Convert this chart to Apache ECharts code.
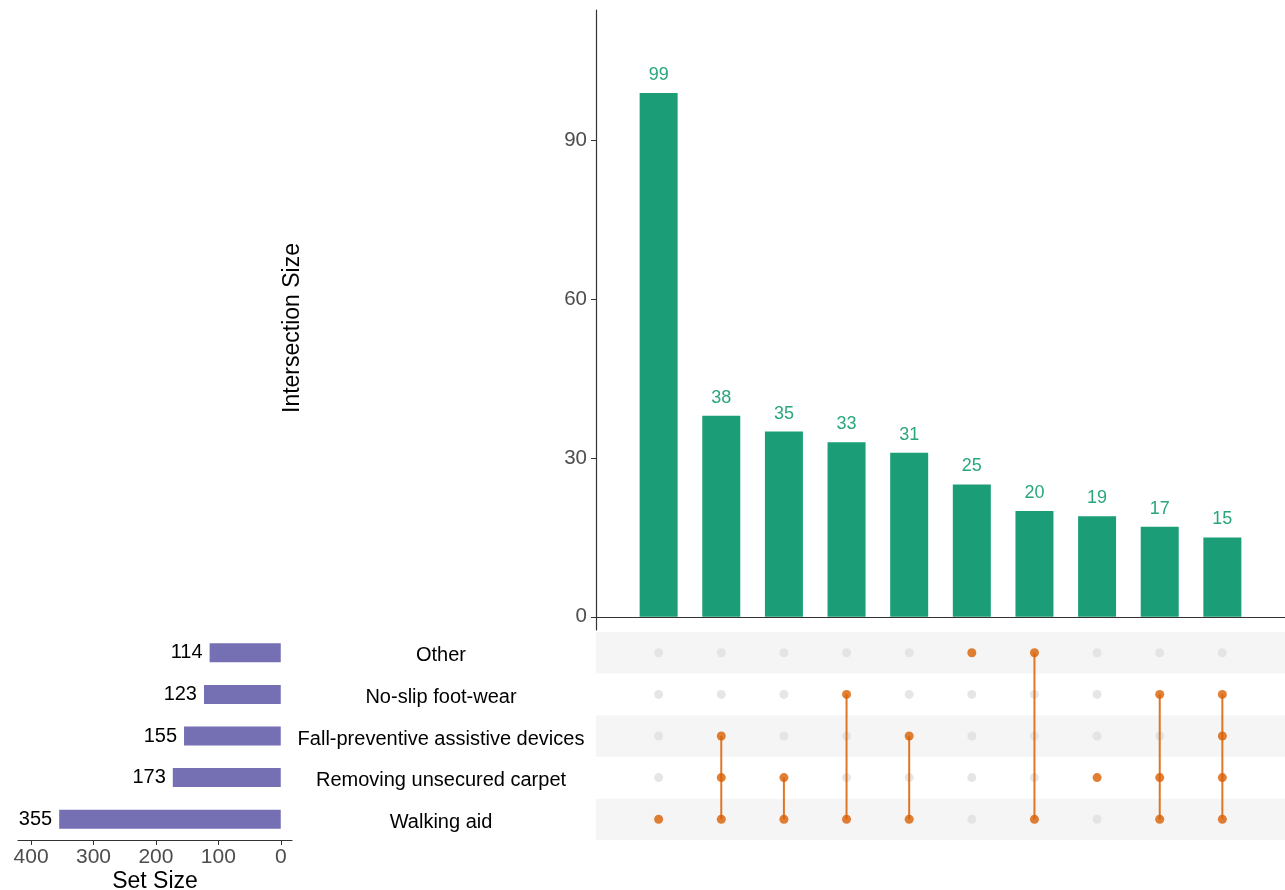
<!DOCTYPE html>
<html>
<head>
<meta charset="utf-8">
<script src="https://cdn.jsdelivr.net/npm/echarts@6/dist/echarts.min.js"></script>
<style>
  html, body { margin: 0; padding: 0; background: #fff; }
  #chart { width: 1285px; height: 890px; }
</style>
</head>
<body>
<div id="chart"></div>
<script>
// sets listed bottom to top, as in the matrix
const setNames = ['Walking aid', 'Removing unsecured carpet', 'Fall-preventive assistive devices', 'No-slip foot-wear', 'Other']
const setSizes = [355, 173, 155, 123, 114]
const intersectionSizes = [99, 38, 35, 33, 31, 25, 20, 19, 17, 15]
// which sets (index into setNames) belong to each intersection column
const memberships = [
  [0],
  [0, 1, 2],
  [0, 1],
  [0, 3],
  [0, 2],
  [4],
  [0, 4],
  [1],
  [0, 1, 3],
  [0, 1, 2, 3]
]
const intersectionTicks = [0, 30, 60, 90]
const setSizeTicks = [0, 100, 200, 300, 400]

const FONT = 'Arial, "Liberation Sans", sans-serif'
const GREEN = '#1b9e77'
const ORANGE = '#d95f02'
const PURPLE = '#7570b3'

const chart = echarts.init(document.getElementById('chart'), null, { renderer: 'canvas' })

// matrix dots
const greyDots = []
const activeDots = []
const segments = []
memberships.forEach((m, col) => {
  setNames.forEach((_, row) => {
    if (m.includes(row)) activeDots.push([col, row])
    else greyDots.push([col, row])
  })
  if (m.length > 1) segments.push([col, Math.min(...m), Math.max(...m)])
})

const option = {
  animation: false,
  backgroundColor: '#fff',
  textStyle: { fontFamily: FONT },
  graphic: [{
    type: 'text',
    x: 293,
    y: 328,
    rotation: Math.PI / 2,
    style: {
      text: 'Intersection Size',
      font: '23px ' + FONT,
      fill: '#000',
      align: 'center',
      verticalAlign: 'middle'
    }
  }],
  grid: [
    // intersection bars
    { left: 596, top: 10, width: 689, height: 620, outerBoundsMode: 'none', containLabel: false },
    // matrix
    { left: 596, top: 632, width: 689, height: 208, outerBoundsMode: 'none', containLabel: false },
    // set sizes
    { left: 18, top: 632, width: 274, height: 208, outerBoundsMode: 'none', containLabel: false }
  ],
  xAxis: [
    {
      gridIndex: 0, type: 'value', min: -1, max: 10,
      axisLine: { show: true, onZero: true, lineStyle: { color: '#333', width: 1.2 } },
      axisTick: { show: false }, axisLabel: { show: false }, splitLine: { show: false }
    },
    {
      gridIndex: 1, type: 'value', min: -1, max: 10, show: false
    },
    {
      gridIndex: 2, type: 'value', min: -18, max: 421, inverse: true,
      axisLine: { show: true, onZero: false, lineStyle: { color: '#333', width: 1.2 } },
      axisTick: { show: true, length: 5, lineStyle: { color: '#333' }, customValues: setSizeTicks },
      axisLabel: { color: '#4d4d4d', fontSize: 21, margin: 7, customValues: setSizeTicks },
      splitLine: { show: false },
      name: 'Set Size', nameLocation: 'middle', nameGap: 30,
      nameTextStyle: { color: '#000', fontSize: 23 }
    }
  ],
  yAxis: [
    {
      gridIndex: 0, type: 'value', min: -2.5, max: 114.7,
      axisLine: { show: true, onZero: false, lineStyle: { color: '#333', width: 1.2 } },
      axisTick: { show: true, length: 5, lineStyle: { color: '#333' }, customValues: intersectionTicks },
      axisLabel: { color: '#4d4d4d', fontSize: 20.5, margin: 9, customValues: intersectionTicks },
      splitLine: { show: false }
    },
    {
      gridIndex: 1, type: 'category', data: setNames,
      axisLine: { show: false, onZero: false }, axisTick: { show: false },
      axisLabel: {
        align: 'center', margin: 155,
        formatter: '{n|{value}}',
        rich: { n: { color: '#000', fontSize: 20, fontFamily: FONT, padding: [6, 0, 0, 0] } }
      },
      splitArea: { show: true, areaStyle: { color: ['#f5f5f5', '#ffffff'] } }
    },
    {
      gridIndex: 2, type: 'category', data: setNames, show: false
    }
  ],
  series: [
    {
      type: 'bar',
      xAxisIndex: 0, yAxisIndex: 0,
      barWidth: 38,
      data: intersectionSizes.map((v, i) => [i, v]),
      itemStyle: { color: GREEN },
      label: {
        show: true, position: 'top', distance: 9,
        color: '#2aa67f', fontSize: 18,
        formatter: p => p.value[1]
      }
    },
    {
      type: 'scatter',
      xAxisIndex: 1, yAxisIndex: 1,
      symbolSize: 9,
      data: greyDots,
      itemStyle: { color: '#e0e0e0' },
      z: 2
    },
    {
      type: 'custom',
      xAxisIndex: 1, yAxisIndex: 1,
      data: segments,
      renderItem: (params, api) => {
        const p1 = api.coord([api.value(0), api.value(1)])
        const p2 = api.coord([api.value(0), api.value(2)])
        return {
          type: 'line',
          shape: { x1: p1[0], y1: p1[1], x2: p2[0], y2: p2[1] },
          style: { stroke: ORANGE, lineWidth: 2, opacity: 0.85 }
        }
      },
      z: 3
    },
    {
      type: 'scatter',
      xAxisIndex: 1, yAxisIndex: 1,
      symbolSize: 9,
      data: activeDots,
      itemStyle: { color: ORANGE },
      z: 4
    },
    {
      type: 'bar',
      xAxisIndex: 2, yAxisIndex: 2,
      barWidth: 19,
      data: setSizes,
      itemStyle: { color: PURPLE },
      label: {
        show: true, position: 'left', distance: 7,
        color: '#000', fontSize: 20
      }
    }
  ]
}

chart.setOption(option)
</script>
</body>
</html>
